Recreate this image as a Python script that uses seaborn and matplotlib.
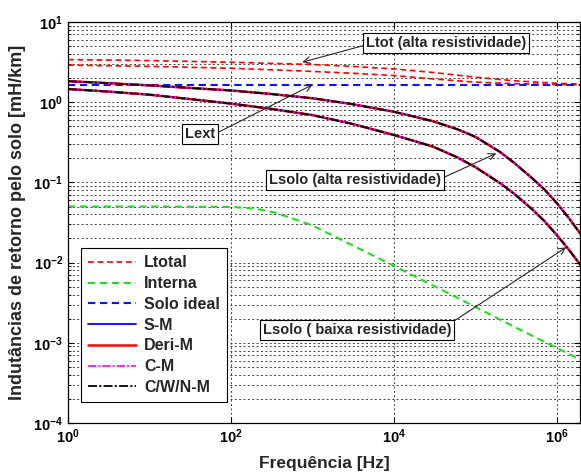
import matplotlib
matplotlib.use('Agg')
import matplotlib.pyplot as plt
import seaborn as sns

# frequencias [Hz] e indutancias [mH/km]
freq = [1, 3, 10, 30, 100, 300, 1e3, 3e3, 1e4, 3e4, 6e4, 1e5, 2e5, 3e5, 5e5, 7e5, 1e6, 1.4e6, 2e6]
lsolo_alta = [1.83, 1.73, 1.62, 1.51, 1.40, 1.27, 1.12, 0.95, 0.76, 0.58, 0.46, 0.37, 0.24,
              0.175, 0.112, 0.082, 0.055, 0.036, 0.022]
lsolo_baixa = [1.46, 1.36, 1.24, 1.10, 0.96, 0.83, 0.69, 0.54, 0.39, 0.28, 0.205, 0.155, 0.098,
               0.072, 0.046, 0.033, 0.022, 0.0145, 0.0090]

freq_tot = [1, 10, 100, 1e3, 3e3, 1e4, 3e4, 1e5, 3e5, 1e6, 2e6]
ltot_alta = [3.4, 3.3, 3.15, 2.95, 2.8, 2.6, 2.35, 2.05, 1.85, 1.72, 1.68]
ltot_baixa = [2.9, 2.8, 2.65, 2.42, 2.3, 2.15, 1.95, 1.78, 1.7, 1.66, 1.65]

freq_int = [1, 10, 100, 200, 350, 500, 700, 1e3, 2e3, 3e3, 1e4, 3e4, 1e5, 3e5, 1e6, 2e6]
l_interna = [0.05, 0.05, 0.0495, 0.047, 0.042, 0.037, 0.033, 0.029, 0.0205, 0.0167, 0.0091,
             0.0052, 0.0028, 0.00158, 0.00086, 0.00061]

freq_ideal = [1, 2e6]
l_ideal = [1.65, 1.65]

xexp = [0, 2, 4, 6]
yexp = [-4, -3, -2, -1, 0, 1]

sns.set_style('ticks')
plt.rcParams['font.family'] = ['Liberation Sans', 'DejaVu Sans']
plt.rcParams['mathtext.fontset'] = 'custom'
plt.rcParams['mathtext.rm'] = 'Liberation Sans:bold'
plt.rcParams['mathtext.it'] = 'Liberation Sans:bold'
plt.rcParams['mathtext.bf'] = 'Liberation Sans:bold'

fig = plt.figure(figsize=(5.81, 4.74), dpi=100)
ax = fig.add_axes([68/581, 1-423/474, 512/581, 401/474])

dash = (3.5, 2.2)
dashdot = (5, 1.2, 1.2, 1.2)

sns.lineplot(x=freq_tot, y=ltot_alta, ax=ax, color='#ff0000', lw=1.2, label='Ltotal')
ax.lines[-1].set_dashes(dash)
sns.lineplot(x=freq_tot, y=ltot_baixa, ax=ax, color='#ff0000', lw=1.2, label='_nolegend_')
ax.lines[-1].set_dashes(dash)
sns.lineplot(x=freq_int, y=l_interna, ax=ax, color='#22dd22', lw=1.5, label='Interna')
ax.lines[-1].set_dashes(dash)
sns.lineplot(x=freq_ideal, y=l_ideal, ax=ax, color='#1010ff', lw=1.5, label='Solo ideal')
ax.lines[-1].set_dashes(dash)

for i, ls in enumerate([lsolo_alta, lsolo_baixa]):
    sns.lineplot(x=freq, y=ls, ax=ax, color='#0000ff', lw=1.3,
                 label='S-M' if i == 0 else '_nolegend_')
    sns.lineplot(x=freq, y=ls, ax=ax, color='#ff0000', lw=1.8,
                 label='Deri-M' if i == 0 else '_nolegend_')
    sns.lineplot(x=freq, y=ls, ax=ax, color='#ff00ff', lw=1.2,
                 label='C-M' if i == 0 else '_nolegend_')
    ax.lines[-1].set_dashes(dashdot)
    sns.lineplot(x=freq, y=ls, ax=ax, color='black', lw=1.3,
                 label='C/W/N-M' if i == 0 else '_nolegend_')
    ax.lines[-1].set_dashes(dashdot)

ax.set_xscale('log')
ax.set_yscale('log')
ax.set_xlim(1, 1.92e6)
ax.set_ylim(1e-4, 1e1)

ax.set_xticks([10.0**e for e in xexp])
ax.set_xticklabels([r'$10^{%d}$' % e for e in xexp], fontsize=10.5)
ax.xaxis.set_minor_locator(matplotlib.ticker.NullLocator())
ax.set_yticks([10.0**e for e in yexp])
ax.set_yticklabels([r'$10^{%d}$' % e for e in yexp], fontsize=10.5)
ax.yaxis.set_minor_locator(matplotlib.ticker.LogLocator(base=10, subs=range(2, 10), numticks=20))
ax.yaxis.set_minor_formatter(matplotlib.ticker.NullFormatter())
ax.tick_params(which='both', direction='in', top=True, right=True, colors='black')
ax.tick_params(which='major', length=4, width=0.8)
ax.tick_params(which='minor', length=2, width=0.6)

ax.grid(True, which='major', axis='both', color='0.25', lw=0.7, ls=(0, (2, 2.5)))
ax.grid(True, which='minor', axis='y', color='0.25', lw=0.7, ls=(0, (2, 2.5)))
for sp in ax.spines.values():
    sp.set_color('black')
    sp.set_linewidth(0.9)

ax.set_xlabel('Frequência [Hz]', fontsize=12.5, fontweight='bold', labelpad=7)
ax.set_ylabel('Indutâncias de retorno pelo solo [mH/km]', fontsize=13, fontweight='bold', labelpad=5)

leg = ax.legend(loc='lower left', bbox_to_anchor=(0.025, 0.052), borderaxespad=0,
                prop={'weight': 'bold', 'size': 11.5}, handlelength=3.0, labelspacing=0.36,
                fancybox=False, framealpha=1, edgecolor='black', handletextpad=0.5,
                borderpad=0.45)
leg.get_frame().set_linewidth(0.8)

box = dict(boxstyle='square,pad=0.2', fc='white', ec='black', lw=0.8)
def note(txt, xy, xytext, relpos):
    ax.annotate(txt, xy=xy, xycoords='data', xytext=xytext, textcoords='axes fraction',
                ha='center', va='center', fontsize=10.5, fontweight='bold', color='0.15', bbox=box,
                arrowprops=dict(arrowstyle='->', color='0.15', lw=0.8, relpos=relpos,
                                shrinkA=0, shrinkB=0, mutation_scale=12))

note('Ltot (alta resistividade)', (750, 3.15), (0.738, 0.948), (0, 0.35))
note('Lext', (1e3, l_ideal[0]), (0.258, 0.721), (1, 0.5))
note('Lsolo (alta resistividade)', (1.8e5, 0.23), (0.561, 0.606), (1, 0.6))
note('Lsolo ( baixa resistividade)', (1.3e6, 0.0155), (0.564, 0.232), (1, 1))

fig.savefig('out.png', dpi=100)
